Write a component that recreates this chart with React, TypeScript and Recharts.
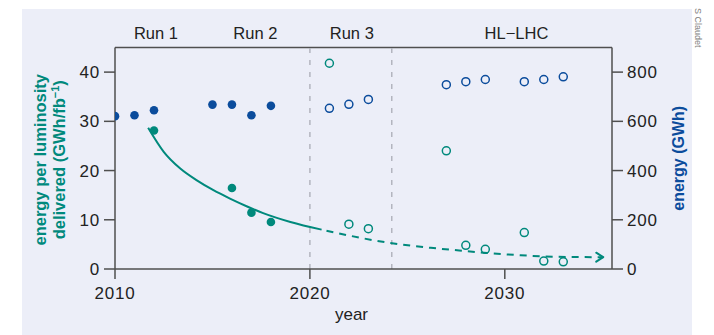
import React from 'react'
import {
    ComposedChart,
    XAxis,
    YAxis,
    Scatter,
    Line,
    ReferenceLine,
} from 'recharts'

// measured values (filled markers)
const pastYears = [2010, 2011, 2012, 2015, 2016, 2017, 2018]
const pastEnergyGWh = [621, 625, 645, 668, 668, 625, 663]
const pastLumiYears = [2012, 2016, 2017, 2018]
const pastEnergyPerLumi = [28.15, 16.45, 11.45, 9.54]

// projections (open markers)
const futureYears = [2021, 2022, 2023, 2027, 2028, 2029, 2031, 2032, 2033]
const futureEnergyGWh = [653, 669, 689, 749, 761, 770, 761, 770, 781]
const futureEnergyPerLumi = [41.8, 9.1, 8.2, 24.0, 4.8, 4.0, 7.4, 1.6, 1.45]

// trend curve
const trendSolidYears = [2011.7, 2012.5, 2013.35, 2014.2, 2015.05, 2015.9, 2016.75, 2017.6, 2019.0, 2020.6]
const trendSolidValues = [28.7, 23.8, 20.4, 18.0, 16.0, 14.3, 12.75, 11.35, 9.55, 8.0]
const trendDashedYears = [2020.6, 2022.0, 2024.1, 2026.2, 2027.4, 2029.1, 2030.8, 2032.5, 2035.05]
const trendDashedValues = [8.0, 6.8, 5.3, 4.3, 3.85, 3.25, 2.8, 2.5, 2.4]

// axes / annotations
const xTicks = [2010, 2020, 2030]
const leftTicks = [0, 10, 20, 30, 40]
const rightTicks = [0, 200, 400, 600, 800]
const runBoundaries = [2020, 2024.2]
const runNames = ['Run 1', 'Run 2', 'Run 3', 'HL\u2212LHC']
const runCentres = [2012.1, 2017.2, 2022.15, 2030.6]

const TEAL = '#00897c'
const BLUE = '#0b4c9c'
const AXIS = '#4f4f4f'
const FONT = '"Liberation Sans", Arial, sans-serif'

const zip = (xs: number[], vs: number[]) => xs.map((year, i) => ({ year, v: vs[i] }))

const pastEnergy = zip(pastYears, pastEnergyGWh)
const pastLumi = zip(pastLumiYears, pastEnergyPerLumi)
const futureEnergy = zip(futureYears, futureEnergyGWh)
const futureLumi = zip(futureYears, futureEnergyPerLumi)
const trendSolid = zip(trendSolidYears, trendSolidValues)
const trendDashed = zip(trendDashedYears, trendDashedValues)

const dotShape = (color: string, open: boolean) => (p: any) => (
    <circle
        cx={p.cx}
        cy={p.cy}
        r={open ? 4 : 4.3}
        fill={open ? 'none' : color}
        stroke={color}
        strokeWidth={open ? 1.5 : 0}
    />
)

const ArrowHead = (p: any) => {
    if (p.index !== trendDashed.length - 1) return <g key={p.key ?? `a${p.index}`} />
    const { cx, cy } = p
    return (
        <path
            key="arrow"
            d={`M${cx - 7},${cy - 4.5} L${cx},${cy} L${cx - 7},${cy + 4.5}`}
            fill="none"
            stroke={TEAL}
            strokeWidth={2}
            strokeLinecap="round"
            strokeLinejoin="round"
        />
    )
}

const LeftTitle = ({ viewBox }: any) => {
    const cy = viewBox.y + viewBox.height / 2 + 1.5
    const b1 = viewBox.x + 45.5
    const b2 = viewBox.x + 64.5
    return (
        <g fill={TEAL} fontWeight={700} fontSize={16.5} fontFamily={FONT}>
            <text x={b1} y={cy} textAnchor="middle" transform={`rotate(-90, ${b1}, ${cy})`}>
                energy per luminosity
            </text>
            <text x={b2} y={cy} textAnchor="middle" transform={`rotate(-90, ${b2}, ${cy})`}>
                delivered (GWh/fb
                <tspan dy={-6} fontSize={11}>{'\u22121'}</tspan>
                <tspan dy={6}>)</tspan>
            </text>
        </g>
    )
}

const RightTitle = ({ viewBox }: any) => {
    const cy = viewBox.y + viewBox.height / 2
    const bx = viewBox.x + 72
    return (
        <text
            x={bx}
            y={cy}
            textAnchor="middle"
            transform={`rotate(-90, ${bx}, ${cy})`}
            fill={BLUE}
            fontWeight={700}
            fontSize={16}
            fontFamily={FONT}
        >
            energy (GWh)
        </text>
    )
}

const XTitle = ({ viewBox }: any) => (
    <text
        x={viewBox.x + viewBox.width / 2 - 12}
        y={viewBox.y + 50.5}
        textAnchor="middle"
        fill="#222"
        fontSize={17}
        fontFamily={FONT}
    >
        year
    </text>
)

const tickStyle = { fill: '#222', fontSize: 17, fontFamily: FONT, letterSpacing: 0.8 }

export default function App() {
    return (
        <div
            style={{
                position: 'absolute',
                left: 0,
                top: 0,
                width: 714,
                height: 335,
                background: '#fff',
                fontFamily: FONT,
                overflow: 'hidden',
            }}
        >
            {/* lavender panel */}
            <div
                style={{
                    position: 'absolute',
                    left: 22,
                    top: 9,
                    width: 670,
                    height: 326,
                    background: '#eceef8',
                }}
            />

            {/* photo credit */}
            <svg width={714} height={335} style={{ position: 'absolute', left: 0, top: 0 }}>
                <text
                    x={695}
                    y={8}
                    transform="rotate(90, 695, 8)"
                    fontSize={9}
                    fill="#808080"
                    fontFamily={FONT}
                >
                    S Claudet
                </text>
            </svg>

            <div style={{ position: 'absolute', left: 0, top: 0 }}>
                <ComposedChart
                    width={714}
                    height={335}
                    margin={{ top: 47.5, right: 0, bottom: 0, left: 0 }}
                >
                    <XAxis
                        dataKey="year"
                        type="number"
                        domain={[2010, 2035.5]}
                        ticks={xTicks}
                        allowDataOverflow
                        height={66}
                        tickSize={10}
                        tickMargin={8}
                        tick={tickStyle}
                        axisLine={{ stroke: AXIS, strokeWidth: 1.5 }}
                        tickLine={{ stroke: AXIS, strokeWidth: 1.5 }}
                        label={<XTitle />}
                    />
                    <YAxis
                        yAxisId="left"
                        type="number"
                        domain={[0, 45]}
                        ticks={leftTicks}
                        allowDataOverflow
                        width={115}
                        tickSize={11}
                        tickMargin={4}
                        tick={tickStyle}
                        axisLine={{ stroke: AXIS, strokeWidth: 1.5 }}
                        tickLine={{ stroke: AXIS, strokeWidth: 1.5 }}
                        label={<LeftTitle />}
                    />
                    <YAxis
                        yAxisId="right"
                        orientation="right"
                        type="number"
                        domain={[0, 900]}
                        ticks={rightTicks}
                        allowDataOverflow
                        width={102}
                        tickSize={11}
                        tickMargin={4}
                        tick={tickStyle}
                        axisLine={{ stroke: AXIS, strokeWidth: 1.5 }}
                        tickLine={{ stroke: AXIS, strokeWidth: 1.5 }}
                        label={<RightTitle />}
                    />

                    {/* frame top */}
                    <ReferenceLine yAxisId="left" y={45} stroke={AXIS} strokeWidth={1.5} />

                    {runBoundaries.map((x) => (
                        <ReferenceLine
                            key={x}
                            yAxisId="left"
                            x={x}
                            stroke="#b3b5bf"
                            strokeWidth={1.5}
                            strokeDasharray="5 7"
                        />
                    ))}
                    {runNames.map((name, i) => (
                        <ReferenceLine
                            key={name}
                            yAxisId="left"
                            x={runCentres[i]}
                            stroke="none"
                            label={{
                                value: name,
                                position: 'top',
                                offset: 9,
                                fill: '#222',
                                fontSize: 16.5,
                                fontFamily: FONT,
                            }}
                        />
                    ))}

                    <Line
                        yAxisId="left"
                        data={trendSolid}
                        dataKey="v"
                        type="monotone"
                        stroke={TEAL}
                        strokeWidth={2}
                        dot={false}
                        activeDot={false}
                        isAnimationActive={false}
                    />
                    <Line
                        yAxisId="left"
                        data={trendDashed}
                        dataKey="v"
                        type="monotone"
                        stroke={TEAL}
                        strokeWidth={2}
                        strokeDasharray="7 6"
                        strokeDashoffset={8}
                        dot={ArrowHead}
                        activeDot={false}
                        isAnimationActive={false}
                    />

                    <Scatter
                        yAxisId="right"
                        data={pastEnergy}
                        dataKey="v"
                        shape={dotShape(BLUE, false)}
                        isAnimationActive={false}
                    />
                    <Scatter
                        yAxisId="right"
                        data={futureEnergy}
                        dataKey="v"
                        shape={dotShape(BLUE, true)}
                        isAnimationActive={false}
                    />
                    <Scatter
                        yAxisId="left"
                        data={pastLumi}
                        dataKey="v"
                        shape={dotShape(TEAL, false)}
                        isAnimationActive={false}
                    />
                    <Scatter
                        yAxisId="left"
                        data={futureLumi}
                        dataKey="v"
                        shape={dotShape(TEAL, true)}
                        isAnimationActive={false}
                    />
                </ComposedChart>
            </div>
        </div>
    )
}
